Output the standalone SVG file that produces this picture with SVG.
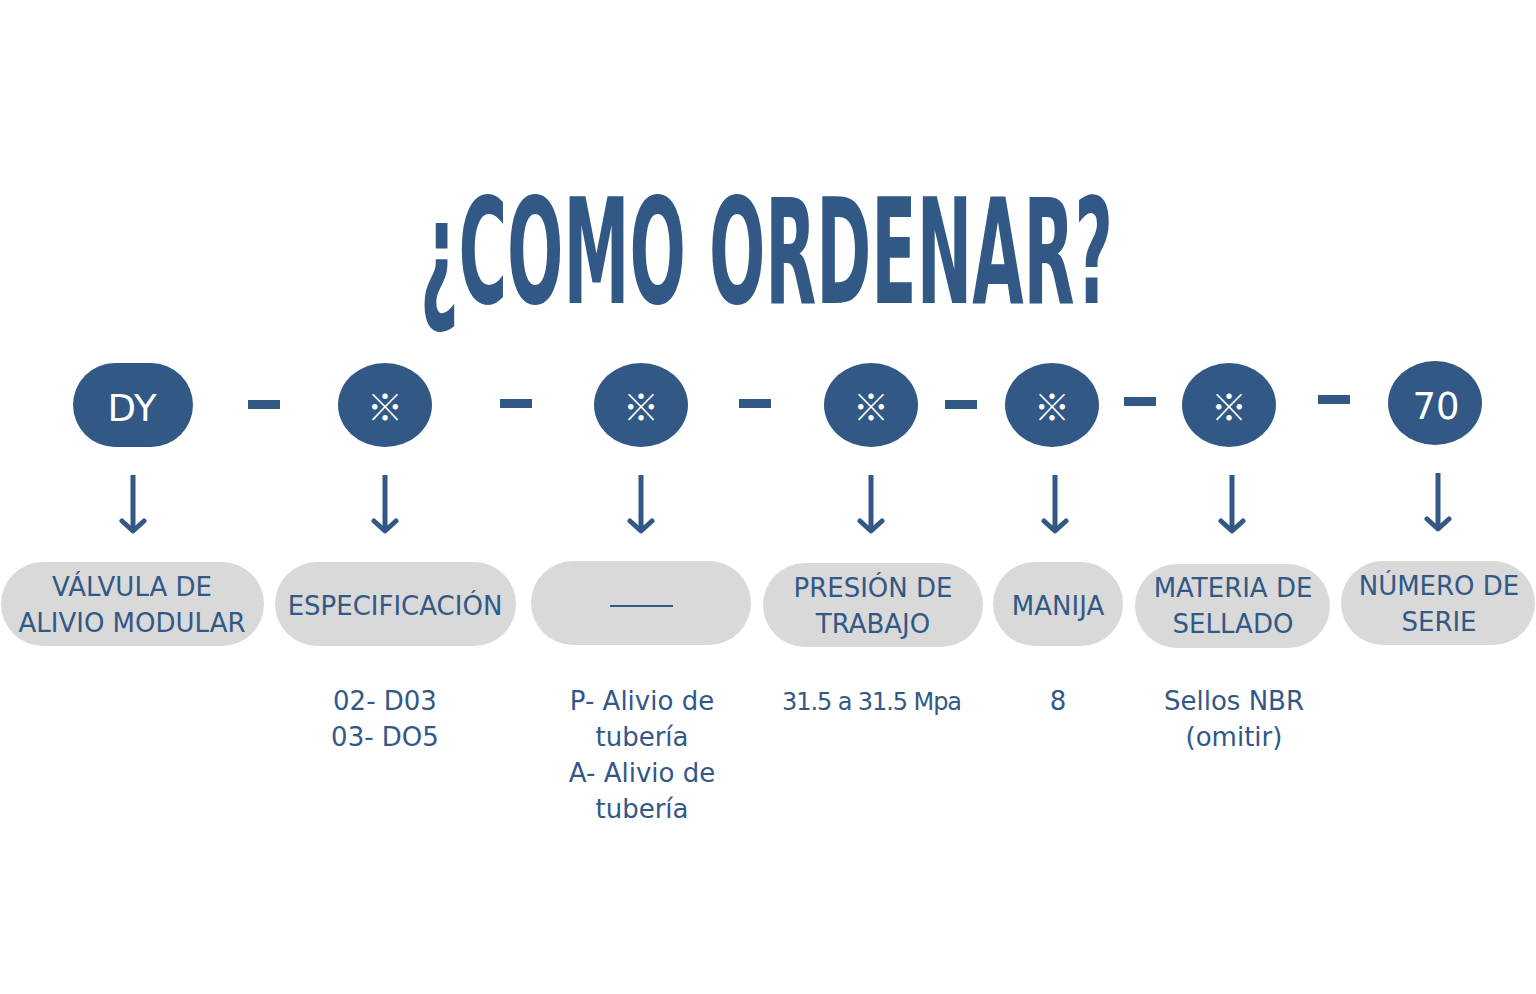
<svg xmlns="http://www.w3.org/2000/svg" width="1536" height="994" viewBox="0 0 1536 994">
<style>
.title{font-family:"DejaVu Sans Condensed","DejaVu Sans",sans-serif;font-weight:bold;font-size:146px;fill:#325886}
.dark{fill:#325886}
.grey{fill:#d9d9d9}
.wt{font-family:"DejaVu Sans","Open Sans",sans-serif;font-size:37px;fill:#ffffff;text-anchor:middle}
.mark{font-family:"Noto Sans CJK JP","DejaVu Sans",sans-serif;font-size:36px;fill:#ffffff;text-anchor:middle;dominant-baseline:central}
.lbl{font-family:"DejaVu Sans","Open Sans",sans-serif;font-size:26px;fill:#325886;text-anchor:middle}
.conn{stroke:#325886;stroke-width:5;fill:none}
</style>
<defs>
<marker id="ah" markerUnits="userSpaceOnUse" viewBox="0 0 28 16" refX="14" refY="13" markerWidth="28" markerHeight="16" orient="0">
<path d="M3,3 L14,13 L25,3" fill="none" stroke="#325886" stroke-width="5" stroke-linecap="round" stroke-linejoin="round"/>
</marker>
</defs>
<rect width="1536" height="994" fill="#ffffff"/>
<g transform="translate(420,303) scale(0.5,1)">
<text class="title" x="0" y="0" textLength="1386" lengthAdjust="spacingAndGlyphs">¿COMO ORDENAR?</text>
</g>

<g id="n1"><rect class="dark" x="73" y="363" width="120" height="84" rx="42"/><text class="wt" x="132" y="421">DY</text></g>
<g id="n2"><ellipse class="dark" cx="385" cy="405" rx="47" ry="42"/><text class="mark" x="385" y="405">※</text></g>
<g id="n3"><ellipse class="dark" cx="641" cy="405" rx="47" ry="42"/><text class="mark" x="641" y="405">※</text></g>
<g id="n4"><ellipse class="dark" cx="871" cy="405" rx="47" ry="42"/><text class="mark" x="871" y="405">※</text></g>
<g id="n5"><ellipse class="dark" cx="1052" cy="405" rx="47" ry="42"/><text class="mark" x="1052" y="405">※</text></g>
<g id="n6"><ellipse class="dark" cx="1229" cy="405" rx="47" ry="42"/><text class="mark" x="1229" y="405">※</text></g>
<g id="n7"><ellipse class="dark" cx="1435" cy="403" rx="47" ry="42"/><text class="wt" x="1436" y="419">70</text></g>

<g id="dashes">
<rect class="dark" x="248" y="400" width="32" height="9"/>
<rect class="dark" x="500" y="399" width="32" height="9"/>
<rect class="dark" x="739" y="399" width="32" height="9"/>
<rect class="dark" x="945" y="400" width="32" height="9"/>
<rect class="dark" x="1124" y="397" width="32" height="9"/>
<rect class="dark" x="1318" y="395" width="32" height="9"/>
</g>

<g id="connectors">
<line class="conn" x1="133" y1="475" x2="133" y2="531" marker-end="url(#ah)"/>
<line class="conn" x1="385" y1="475" x2="385" y2="531" marker-end="url(#ah)"/>
<line class="conn" x1="641" y1="475" x2="641" y2="531" marker-end="url(#ah)"/>
<line class="conn" x1="871" y1="475" x2="871" y2="531" marker-end="url(#ah)"/>
<line class="conn" x1="1055" y1="475" x2="1055" y2="531" marker-end="url(#ah)"/>
<line class="conn" x1="1232" y1="475" x2="1232" y2="531" marker-end="url(#ah)"/>
<line class="conn" x1="1438" y1="473" x2="1438" y2="529" marker-end="url(#ah)"/>
</g>

<g id="p1"><rect class="grey" x="1" y="562" width="263" height="84" rx="42"/><text class="lbl" x="132" y="596">VÁLVULA DE</text><text class="lbl" x="132" y="632">ALIVIO MODULAR</text></g>
<g id="p2"><rect class="grey" x="275" y="562" width="241" height="84" rx="42"/><text class="lbl" x="395" y="615">ESPECIFICACIÓN</text></g>
<g id="p3"><rect class="grey" x="531" y="561" width="220" height="84" rx="42"/><line x1="610" y1="606" x2="673" y2="606" stroke="#325886" stroke-width="2"/></g>
<g id="p4"><rect class="grey" x="763" y="563" width="220" height="84" rx="42"/><text class="lbl" x="873" y="597">PRESIÓN DE</text><text class="lbl" x="873" y="633">TRABAJO</text></g>
<g id="p5"><rect class="grey" x="993" y="562" width="130" height="84" rx="42"/><text class="lbl" x="1058" y="615">MANIJA</text></g>
<g id="p6"><rect class="grey" x="1135" y="564" width="195" height="84" rx="42"/><text class="lbl" x="1233" y="597">MATERIA DE</text><text class="lbl" x="1233" y="633">SELLADO</text></g>
<g id="p7"><rect class="grey" x="1341" y="561" width="194" height="84" rx="42"/><text class="lbl" x="1439" y="595">NÚMERO DE</text><text class="lbl" x="1439" y="631">SERIE</text></g>

<g id="values">
<text class="lbl" x="385" y="710">02- D03</text>
<text class="lbl" x="385" y="746">03- DO5</text>
<text class="lbl" x="642" y="710">P- Alivio de</text>
<text class="lbl" x="642" y="746">tubería</text>
<text class="lbl" x="642" y="782">A- Alivio de</text>
<text class="lbl" x="642" y="818">tubería</text>
<text class="lbl" x="872" y="710" style="font-size:24px" textLength="180" lengthAdjust="spacing">31.5 a 31.5 Mpa</text>
<text class="lbl" x="1058" y="710">8</text>
<text class="lbl" x="1234" y="710">Sellos NBR</text>
<text class="lbl" x="1234" y="746">(omitir)</text>
</g>
</svg>
